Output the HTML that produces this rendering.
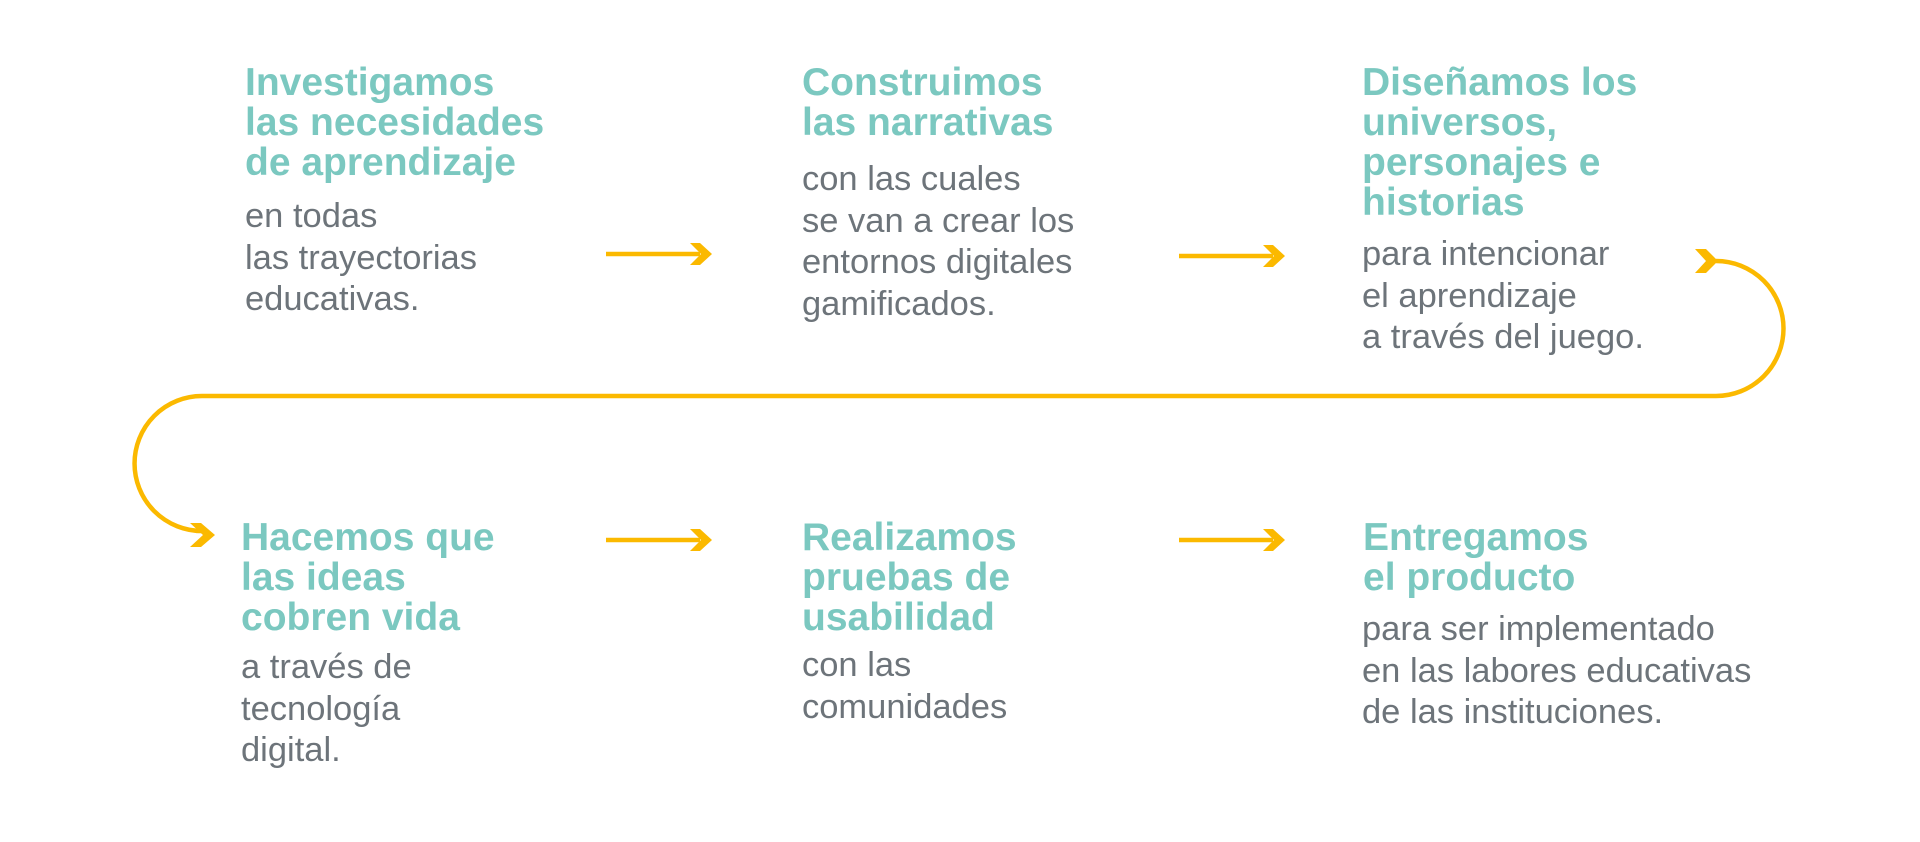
<!DOCTYPE html>
<html><head><meta charset="utf-8"><style>
body{margin:0;width:1920px;height:842px;background:#fff;position:relative;overflow:hidden;font-family:"Liberation Sans",sans-serif}
.h{position:absolute;color:#7bc8c0;font-weight:bold;font-size:39px;line-height:40px;white-space:nowrap}
.g{position:absolute;color:#6d747a;font-size:34.5px;line-height:41.6px;white-space:nowrap}
svg{position:absolute;left:0;top:0}
</style></head><body>
<svg width="1920" height="842">
<g stroke="#fbb900" stroke-width="4.5" fill="none">
<line x1="606" y1="254" x2="700" y2="254"/>
<line x1="1179" y1="256" x2="1273" y2="256"/>
<line x1="606" y1="540" x2="700" y2="540"/>
<line x1="1179" y1="540" x2="1273" y2="540"/>
<path d="M1716 261 A67.5 67.5 0 0 1 1716 396 L202 396 A67.5 67.5 0 0 0 202 531 L196 531"/>
</g>
<g fill="#fbb900">
<polygon points="690,243 700,243 712,254 700,265 690,265 701,254"/>
<polygon points="1263,245 1273,245 1285,256 1273,267 1263,267 1274,256"/>
<polygon points="690,529 700,529 712,540 700,551 690,551 701,540"/>
<polygon points="1263,529 1273,529 1285,540 1273,551 1263,551 1274,540"/>
<polygon points="1695,249 1706,249 1718,261 1706,273 1695,273 1706,261"/>
<polygon points="190,523 201,523 215,535 201,547 190,547 203,535"/>
</g>
</svg>
<div class="h" style="left:245px;top:63px">Investigamos<br>las necesidades<br>de aprendizaje</div>
<div class="g" style="left:245px;top:196px">en todas<br>las trayectorias<br>educativas.</div>
<div class="h" style="left:802px;top:63px">Construimos<br>las narrativas</div>
<div class="g" style="left:802px;top:159px">con las cuales<br>se van a crear los<br>entornos digitales<br>gamificados.</div>
<div class="h" style="left:1362px;top:63px">Diseñamos los<br>universos,<br>personajes e<br>historias</div>
<div class="g" style="left:1362px;top:234px">para intencionar<br>el aprendizaje<br>a través del juego.</div>
<div class="h" style="left:241px;top:518px">Hacemos que<br>las ideas<br>cobren vida</div>
<div class="g" style="left:241px;top:647px">a través de<br>tecnología<br>digital.</div>
<div class="h" style="left:802px;top:518px">Realizamos<br>pruebas de<br>usabilidad</div>
<div class="g" style="left:802px;top:645px">con las<br>comunidades</div>
<div class="h" style="left:1363px;top:518px">Entregamos<br>el producto</div>
<div class="g" style="left:1362px;top:609px">para ser implementado<br>en las labores educativas<br>de las instituciones.</div>
</body></html>
